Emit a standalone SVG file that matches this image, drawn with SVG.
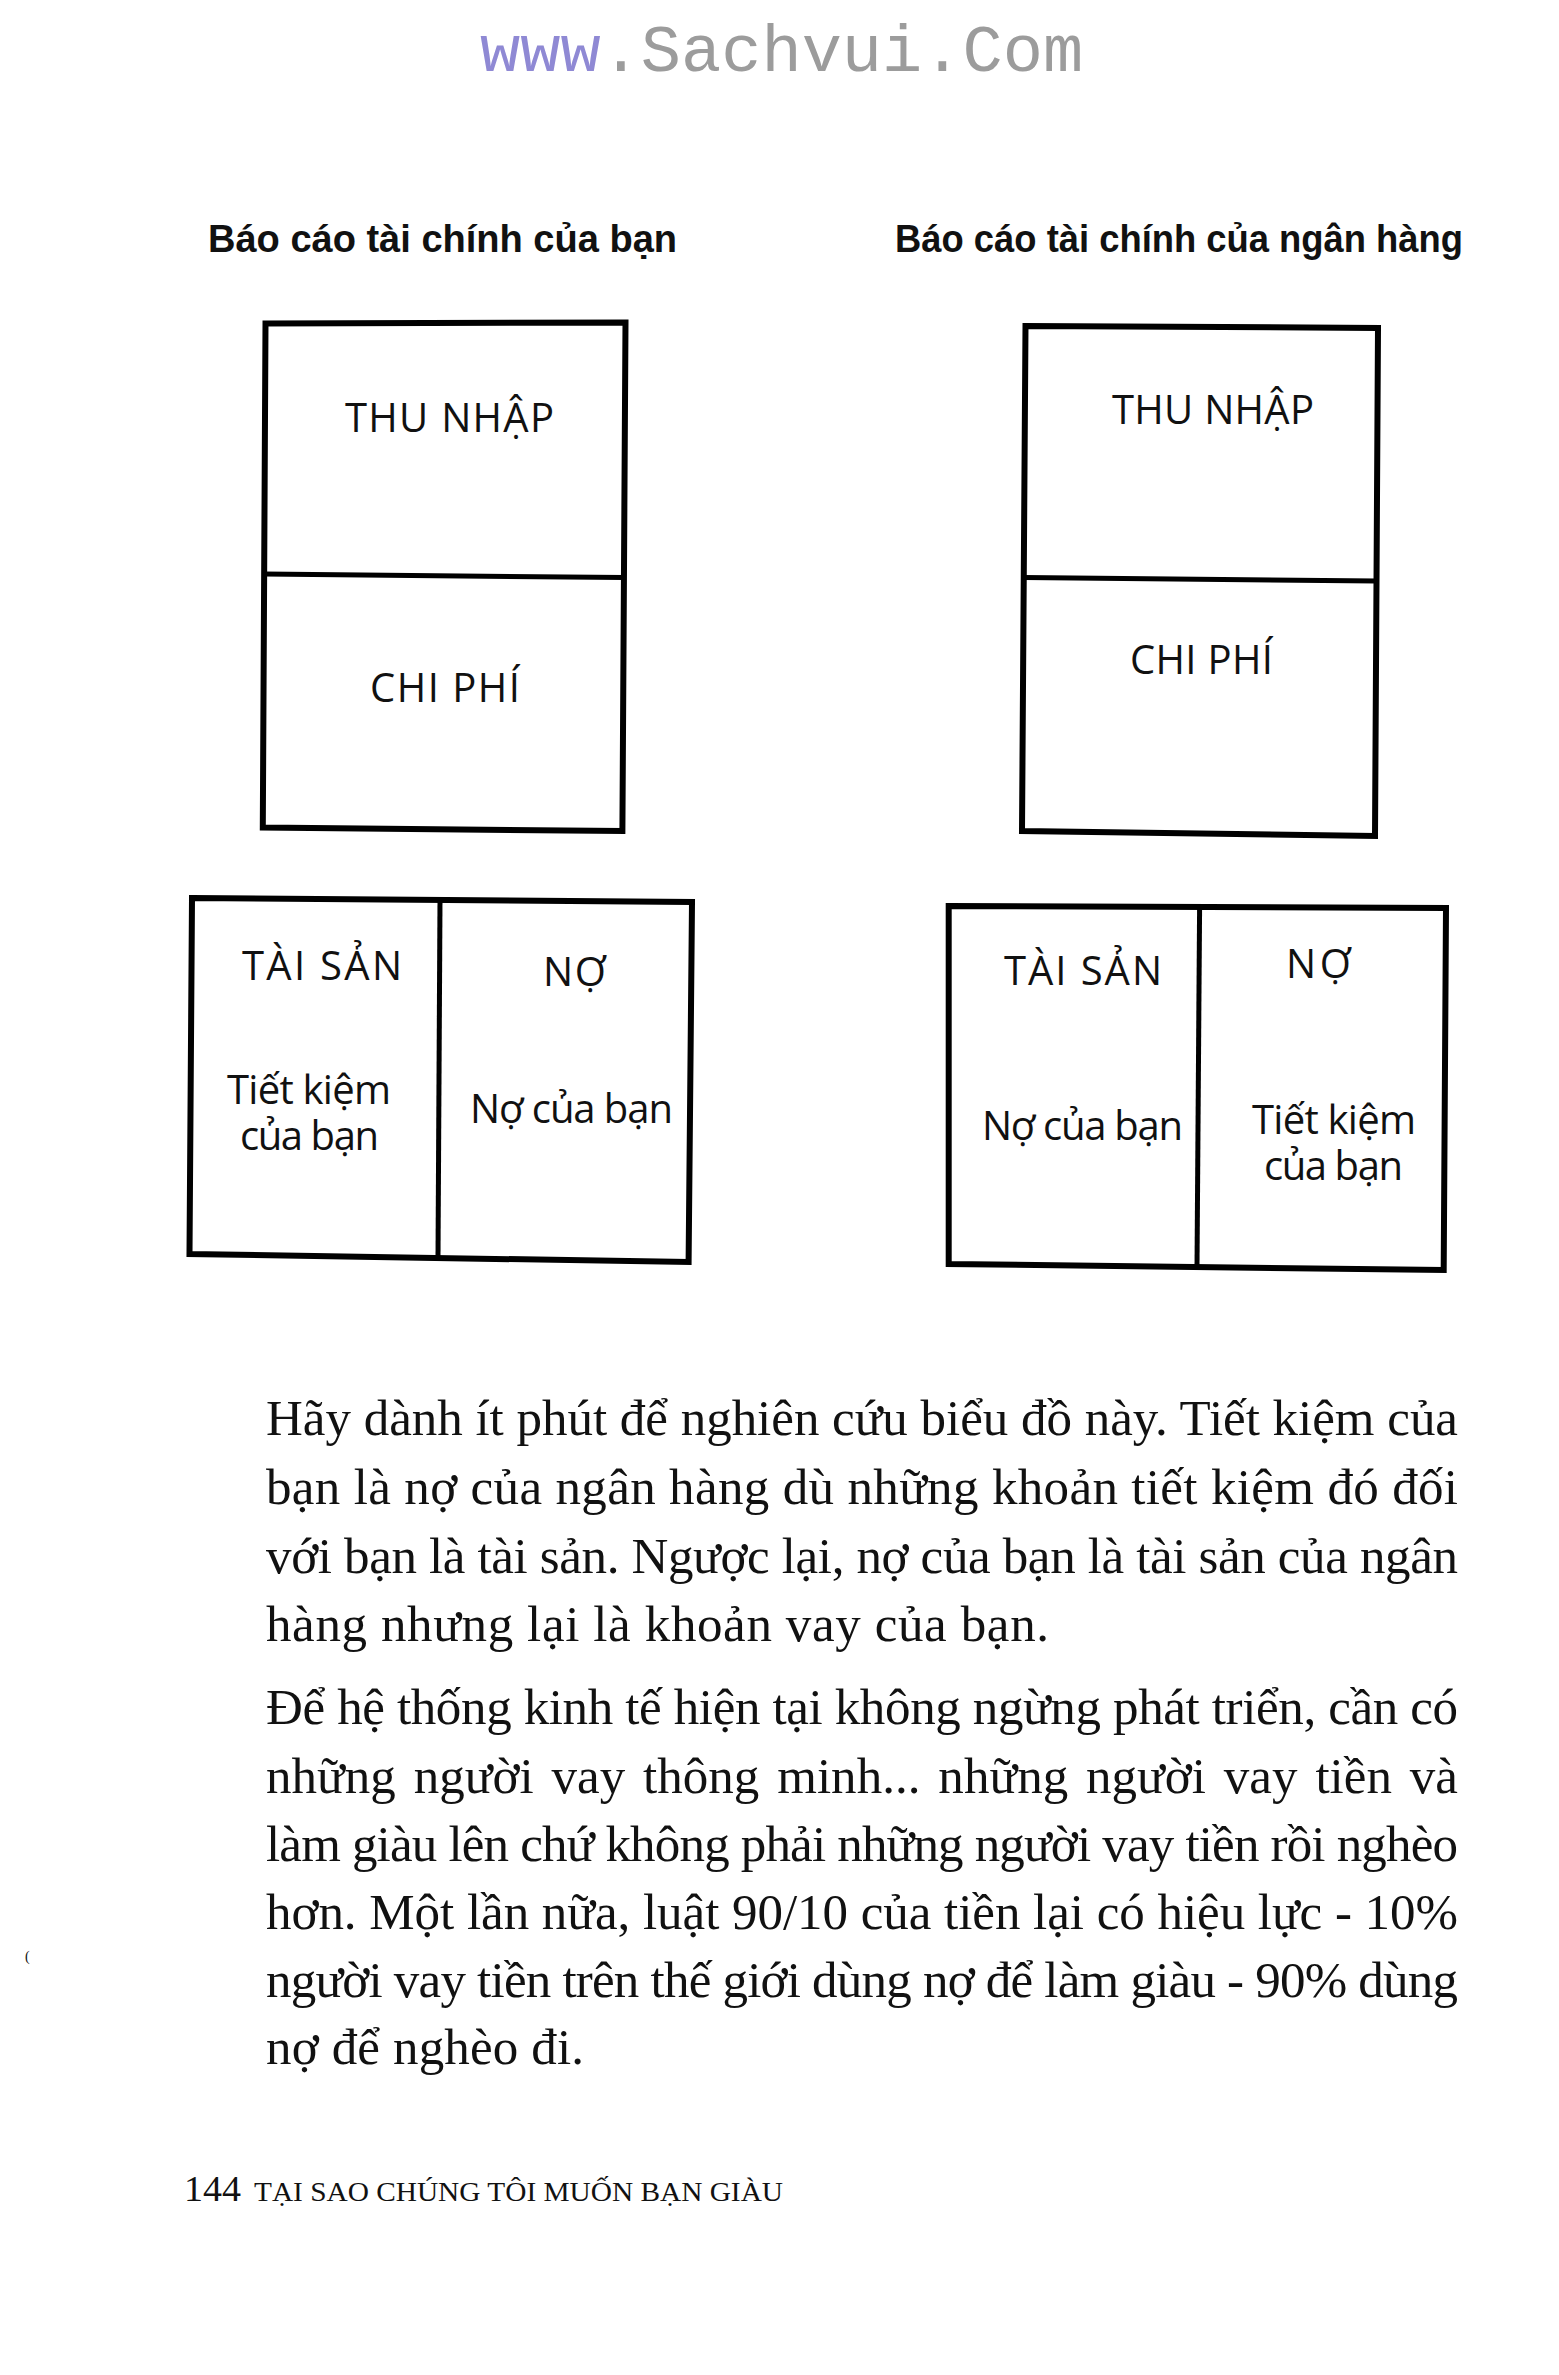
<svg xmlns="http://www.w3.org/2000/svg" width="1559" height="2375" viewBox="0 0 1559 2375">
<style>
.box{fill:none;stroke:#000;stroke-width:6;stroke-linejoin:miter}
.dv{fill:none;stroke:#000;stroke-width:5}
.lbl{font-family:"Open Sans","Liberation Sans",Arial,sans-serif;font-size:40px;fill:#111}
.title{font-family:"Liberation Sans",Arial,sans-serif;font-weight:bold;font-size:38px;fill:#111}
.body{font-family:"Liberation Serif","Times New Roman",serif;font-size:51px;fill:#111}
.foot{font-family:"Liberation Serif","Times New Roman",serif;fill:#111}
.wm{font-family:"Liberation Mono","Courier New",monospace;font-size:67px;fill:#9c9c9c}
</style>
<rect x="0" y="0" width="1559" height="2375" fill="#fff"/>

<g id="watermark">
<text class="wm" x="480" y="71"><tspan fill="#8f89d4">www</tspan>.Sachvui.Com</text>
</g>

<g id="title-left">
<text class="title" x="208" y="252" textLength="469" lengthAdjust="spacingAndGlyphs">Báo cáo tài chính của bạn</text>
</g>
<g id="title-right">
<text class="title" x="895" y="252" textLength="568" lengthAdjust="spacingAndGlyphs">Báo cáo tài chính của ngân hàng</text>
</g>

<g id="left-income-statement">
<path class="box" d="M265.5,323.4 L625.5,322.4 L622.4,831 L262.8,827.6 Z"/>
<path class="dv" d="M264,574 L624,577.6"/>
<text class="lbl" x="345" y="432" textLength="209" lengthAdjust="spacing">THU NHẬP</text>
<text class="lbl" x="370" y="702" textLength="150" lengthAdjust="spacing">CHI PHÍ</text>
</g>

<g id="right-income-statement">
<path class="box" d="M1025.5,325.9 L1378,328 L1375,836 L1022,831 Z"/>
<path class="dv" d="M1024,577.6 L1376.5,581"/>
<text class="lbl" x="1112" y="424" textLength="202" lengthAdjust="spacing">THU NHẬP</text>
<text class="lbl" x="1130" y="674" textLength="143" lengthAdjust="spacing">CHI PHÍ</text>
</g>

<g id="left-balance-sheet">
<path class="box" d="M192,898 L692,902 L688.6,1262 L189.5,1254 Z"/>
<path class="dv" d="M440,900 L438,1258"/>
<text class="lbl" x="242" y="980" textLength="160" lengthAdjust="spacing">TÀI SẢN</text>
<text class="lbl" x="543" y="986" textLength="63" lengthAdjust="spacing">NỢ</text>
<text class="lbl" x="227" y="1104" textLength="164" lengthAdjust="spacing">Tiết kiệm</text>
<text class="lbl" x="240" y="1150" textLength="139" lengthAdjust="spacing">của bạn</text>
<text class="lbl" x="470" y="1123" textLength="203" lengthAdjust="spacing">Nợ của bạn</text>
</g>

<g id="right-balance-sheet">
<path class="box" d="M948.7,906 L1446,908 L1443.7,1270 L948.7,1264 Z"/>
<path class="dv" d="M1199.6,907 L1197,1267"/>
<text class="lbl" x="1004" y="985" textLength="158" lengthAdjust="spacing">TÀI SẢN</text>
<text class="lbl" x="1286" y="978" textLength="65" lengthAdjust="spacing">NỢ</text>
<text class="lbl" x="982" y="1140" textLength="201" lengthAdjust="spacing">Nợ của bạn</text>
<text class="lbl" x="1252" y="1134" textLength="164" lengthAdjust="spacing">Tiết kiệm</text>
<text class="lbl" x="1264" y="1180" textLength="139" lengthAdjust="spacing">của bạn</text>
</g>

<g id="connectors"></g>

<g id="body-text">
<text class="body" x="266" y="1435" textLength="1192" lengthAdjust="spacing">Hãy dành ít phút để nghiên cứu biểu đồ này. Tiết kiệm của</text>
<text class="body" x="266" y="1504" textLength="1192" lengthAdjust="spacing">bạn là nợ của ngân hàng dù những khoản tiết kiệm đó đối</text>
<text class="body" x="266" y="1573" textLength="1192" lengthAdjust="spacing">với bạn là tài sản. Ngược lại, nợ của bạn là tài sản của ngân</text>
<text class="body" x="266" y="1641" textLength="783" lengthAdjust="spacing">hàng nhưng lại là khoản vay của bạn.</text>
<text class="body" x="266" y="1724" textLength="1192" lengthAdjust="spacing">Để hệ thống kinh tế hiện tại không ngừng phát triển, cần có</text>
<text class="body" x="266" y="1793" textLength="1192" lengthAdjust="spacing" word-spacing="5">những người vay thông minh... những người vay tiền và</text>
<text class="body" x="266" y="1861" textLength="1192" lengthAdjust="spacing">làm giàu lên chứ không phải những người vay tiền rồi nghèo</text>
<text class="body" x="266" y="1929" textLength="1192" lengthAdjust="spacing">hơn. Một lần nữa, luật 90/10 của tiền lại có hiệu lực - 10%</text>
<text class="body" x="266" y="1997" textLength="1192" lengthAdjust="spacing">người vay tiền trên thế giới dùng nợ để làm giàu - 90% dùng</text>
<text class="body" x="266" y="2064" textLength="318" lengthAdjust="spacing">nợ để nghèo đi.</text>
</g>

<g id="margin-mark">
<text class="foot" x="25" y="1961" font-size="14">(</text>
</g>

<g id="footer">
<text class="foot" x="184" y="2201" font-size="36" textLength="57" lengthAdjust="spacingAndGlyphs">144</text>
<text class="foot" x="254" y="2201" font-size="28" textLength="529" lengthAdjust="spacingAndGlyphs">TẠI SAO CHÚNG TÔI MUỐN BẠN GIÀU</text>
</g>
</svg>
